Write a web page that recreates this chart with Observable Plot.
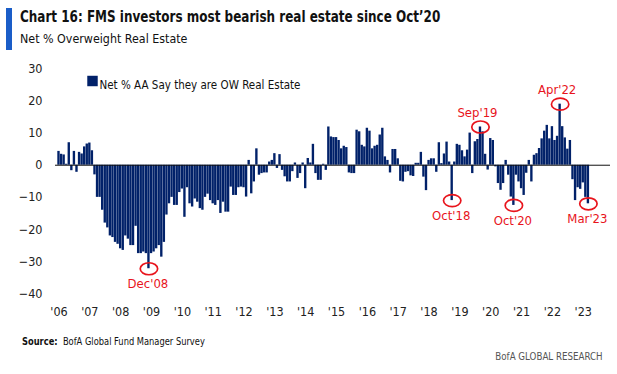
<!DOCTYPE html>
<html><head><meta charset="utf-8">
<script src="https://cdn.jsdelivr.net/npm/d3@7"></script>
<script src="https://cdn.jsdelivr.net/npm/@observablehq/plot@0.6"></script>
<style>
body{margin:0;background:#fff;font-family:"Liberation Sans Narrow","Arial Narrow","DejaVu Sans Condensed",sans-serif;}
#wrap{position:relative;width:617px;height:374px;overflow:hidden;background:#fff}
#bar{position:absolute;left:6px;top:8px;width:6px;height:42px;background:#1a5dc8}
#title{position:absolute;left:20px;top:8px;font-weight:bold;font-size:15.5px;color:#111;white-space:nowrap;transform:scaleX(0.86);transform-origin:0 0}
#sub{position:absolute;left:20px;top:31px;font-size:13px;color:#111;white-space:nowrap;transform:scaleX(0.95);transform-origin:0 0}
#chart{position:absolute;left:0;top:56px}
#src{position:absolute;left:22px;top:335px;font-size:10.5px;color:#111;white-space:nowrap;transform:scaleX(0.88);transform-origin:0 0}
#brand{position:absolute;right:14px;top:350px;font-size:10.5px;color:#555;white-space:nowrap;transform:scaleX(0.92);transform-origin:100% 0}
</style></head>
<body>
<div id="wrap">
  <div id="bar"></div>
  <div id="title">Chart 16: FMS investors most bearish real estate since Oct’20</div>
  <div id="sub">Net % Overweight Real Estate</div>
  <div id="chart"></div>
  <div id="src"><b>Source:</b>&nbsp; BofA Global Fund Manager Survey</div>
  <div id="brand">BofA GLOBAL RESEARCH</div>
</div>
<script>
// Monthly series, Jan 2006 .. Mar 2023
const seriesName = "Net % AA Say they are OW Real Estate";
const v2006 = [4.3, 3.4, 3.2, 0.3, 7.0, -1.7, 4.3, -2.2, 4.0, 3.5, 5.7, 6.6];
const v2007 = [6.9, 4.5, -3.0, -10.0, -10.0, -14, -18, -19.5, -22, -22.5, -24, -24.6];
const v2008 = [-26, -26.5, -22, -23, -25, -25, -19, -27.5, -27.5, -27, -27.5, -32.2];
const v2009 = [-27.5, -27, -26, -25, -28.6, -24, -15.5, -12, -10, -12.5, -12.5, -8.5];
const v2010 = [-7.4, -16.2, -7, -12, -13, -10.5, -11.5, -13.5, -14, -10, -9, -11];
const v2011 = [-12, -12.5, -11, -15, -11.5, -14.6, -14.6, -6.8, -9.4, -9.4, -7, -6.8];
const v2012 = [-7, -9.9, 1.5, -8.9, -5.2, 5.1, -3.1, -2.6, -2.4, -2.4, 1, 1.5];
const v2013 = [3.6, -1, 3.3, -1.6, -3.6, -5.2, -5.2, -2, 0.7, -4.1, -2.6, 0.7];
const v2014 = [-7.3, 2.1, 0.7, 6.5, -2.6, -4.7, -4.7, 0.3, -1.6, 11.9, 8.8, 8.6];
const v2015 = [8.6, 7.7, 5.1, 5.9, 5.5, -2.4, -2.6, -2.6, 10.9, 10.4, 6.2, 5.7];
const v2016 = [11.5, 10.6, 5.1, 5.9, 6.2, 9.4, 11.5, 2.6, 1.5, -2.4, 4.9, 4.9];
const v2017 = [2, -5, -5.2, -2.2, -2, -3.3, -3.5, 0.6, 0.6, 4, -3.7, -7.9];
const v2018 = [1.5, 2, 2, -2.2, 7, 0.5, 3.5, 7.2, 1, -11, 1, 6.5];
const v2019 = [6.2, 4.5, 2.6, 4.7, 10, -2.6, 7.3, 8, 11.9, 10.4, 3.4, -1.5];
const v2020 = [8.3, 7.7, -0.5, -5.7, -7.8, -5.7, 1.5, -3.1, -9.9, -12.5, -3.1, -5.2];
const v2021 = [-7.3, -9.4, -2.5, 1.5, -5.2, 3.1, 3.6, 5.2, 8.2, 10.6, 12.4, 8.2];
const v2022 = [12, 7.7, 9, 19, 12, 8.5, 5, 7.7, -4.5, -11, -7, -7.5];
const v2023 = [-5.5, -10, -12];

const yearLabels = ["'06","'07","'08","'09","'10","'11","'12","'13","'14","'15","'16","'17","'18","'19","'20","'21","'22","'23"];
const yTicks = [30, 20, 10, 0, -10, -20, -30, -40];

// callouts: label and month index (months since Jan 2006)
const calloutLabels = ["Dec'08", "Oct'18", "Sep'19", "Oct'20", "Apr'22", "Mar'23"];
const calloutMonth  = [35, 153, 164, 177, 195, 206];

const values = [].concat(v2006, v2007, v2008, v2009, v2010, v2011, v2012, v2013, v2014,
  v2015, v2016, v2017, v2018, v2019, v2020, v2021, v2022, v2023);
const data = values.map((v, i) => ({i, v}));
const callouts = calloutLabels.map((label, k) => ({label, i: calloutMonth[k], v: values[calloutMonth[k]]}));

const FONT = '"Liberation Sans Narrow","Arial Narrow","DejaVu Sans Condensed",sans-serif';
const NAVY = "#012169";
const RED = "#e8141c";

const ellipse = {
  draw(ctx, size) {
    const ry = Math.sqrt(size / Math.PI), rx = ry * 1.45, k = 0.5523;
    ctx.moveTo(rx, 0);
    ctx.bezierCurveTo(rx, ry * k, rx * k, ry, 0, ry);
    ctx.bezierCurveTo(-rx * k, ry, -rx, ry * k, -rx, 0);
    ctx.bezierCurveTo(-rx, -ry * k, -rx * k, -ry, 0, -ry);
    ctx.bezierCurveTo(rx * k, -ry, rx, -ry * k, rx, 0);
    ctx.closePath();
  }
};

const chart = Plot.plot({
  width: 617, height: 264,
  marginLeft: 55, marginRight: 7, marginTop: 12.3, marginBottom: 26.7,
  style: {fontFamily: FONT, fontSize: "12px", color: "#222", background: "transparent"},
  x: {domain: [-1.36, 214.6], axis: null},
  y: {domain: [-40, 30], axis: null},
  marks: [
    Plot.axisY({ticks: yTicks, tickSize: 0, tickPadding: 13, label: null, fontSize: 12.5}),
    Plot.axisX({ticks: yearLabels.map((_, k) => k * 12), tickFormat: d => yearLabels[Math.round(d / 12)],
      tickSize: 0, tickPadding: 13, label: null, fontSize: 12.5}),
    Plot.rectY(data, {x1: d => d.i - 0.46, x2: d => d.i + 0.46, y1: 0, y2: "v", fill: NAVY}),
    Plot.ruleY([0], {stroke: "#111", strokeWidth: 1}),
    Plot.dot(callouts, {x: "i", y: "v", symbol: ellipse, r: 6, stroke: RED, strokeWidth: 1.7, fill: "none"}),
    Plot.text(callouts.filter(d => d.v < 0), {x: "i", y: "v", text: "label", dx: -1, dy: 15, fill: RED, fontSize: 13}),
    Plot.text(callouts.filter(d => d.v > 0), {x: "i", y: "v", text: "label", dx: -3, dy: -14, fill: RED, fontSize: 13}),
    Plot.dot([seriesName], {frameAnchor: "top-left", dx: 37, dy: 12.2, symbol: "square", r: 5.9, fill: NAVY}),
    Plot.text([seriesName], {frameAnchor: "top-left", dx: 44, dy: 12.2, text: d => d, textAnchor: "start", fontSize: 11.5, fill: "#111"})
  ]
});
document.getElementById("chart").appendChild(chart);
</script>
</body></html>
